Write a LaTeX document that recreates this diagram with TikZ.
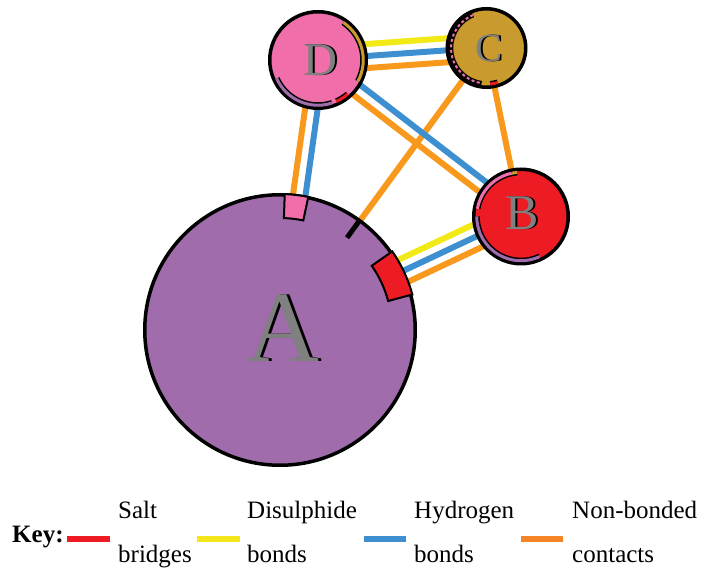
\documentclass[tikz,border=0pt]{standalone}
\usepackage{fontspec}
\setmainfont{Liberation Serif}
\usetikzlibrary{calc}
\definecolor{purpleA}{RGB}{160,108,172}
\definecolor{pinkD}{RGB}{240,110,170}
\definecolor{goldC}{RGB}{201,154,46}
\definecolor{redB}{RGB}{237,28,36}
\definecolor{bondorange}{RGB}{248,153,29}
\definecolor{bondblue}{RGB}{62,143,207}
\definecolor{bondyellow}{RGB}{242,234,22}
\definecolor{legorange}{RGB}{245,132,38}
\definecolor{legblue}{RGB}{63,142,207}
\definecolor{legyellow}{RGB}{244,230,27}
\definecolor{legred}{RGB}{237,28,36}
\definecolor{letgray}{RGB}{128,128,128}
\pgfdeclarelayer{bg}
\pgfsetlayers{bg,main}
\newcommand{\rimarc}[5]{%
  \pgfmathsetmacro\rimb{#2-5.5}%
  \pgfmathsetmacro\rimc{#2-4.75}%
  \draw[black, line width=4.5pt] ([shift={(#3:\rimb pt)}]#1.center) arc[start angle=#3, end angle=#4, radius=\rimb pt];
  \draw[#5, line width=3pt] ([shift={(#3:\rimc pt)}]#1.center) arc[start angle=#3, end angle=#4, radius=\rimc pt];
}
% gray letter with a black shadow, in one box
\newcommand{\shadowletter}[2]{\rlap{\hspace*{#2}\raisebox{-0.3#2}{\textcolor{black}{#1}}}\textcolor{letgray}{#1}}
\begin{document}
\begin{tikzpicture}[x=1pt,y=1pt,
  mol/.style={circle, draw=black, line width=3.5pt, inner sep=0pt},
  bond/.style={line width=6pt},
  letter/.style={inner sep=0pt},
  keytext/.style={anchor=base west, inner sep=0pt, font=\fontsize{25}{30}\selectfont},
  swatch/.style={line width=6.5pt},
  patch/.style={draw=black, line width=2pt, line join=miter}
]
\useasboundingbox (0,0) rectangle (718,570);

% molecules
\node[mol, fill=purpleA, minimum size=270.5pt] (A) at (280,240) {};
\node[mol, fill=pinkD, minimum size=96.5pt] (D) at (318,510) {};
\node[mol, fill=goldC, minimum size=78.5pt] (C) at (486.5,522) {};
\node[mol, fill=redB, minimum size=94.5pt] (B) at (521,353.5) {};

% bonds (behind)
\begin{pgfonlayer}{bg}
\draw[bond, bondorange] (C.center) -- (A.center);
\draw[bond, bondorange] (C.center) -- (B.center);
\draw[bond, bondblue] ($(D.center)!6.5pt!90:(A.center)$) -- ($(A.center)!6.5pt!-90:(D.center)$);
\draw[bond, bondorange] ($(D.center)!6pt!-90:(A.center)$) -- ($(A.center)!6pt!90:(D.center)$);
\draw[bond, bondyellow] ($(D.center)!12.5pt!90:(C.center)$) -- ($(C.center)!12.5pt!-90:(D.center)$);
\draw[bond, bondblue] ($(D.center)!0.5pt!90:(C.center)$) -- ($(C.center)!0.5pt!-90:(D.center)$);
\draw[bond, bondorange] ($(D.center)!11.5pt!-90:(C.center)$) -- ($(C.center)!11.5pt!90:(D.center)$);
\draw[bond, bondyellow] ($(A.center)!13pt!90:(B.center)$) -- ($(B.center)!13pt!-90:(A.center)$);
\draw[bond, bondblue] ($(A.center)!1pt!90:(B.center)$) -- ($(B.center)!1pt!-90:(A.center)$);
\draw[bond, bondorange] ($(A.center)!11pt!-90:(B.center)$) -- ($(B.center)!11pt!90:(A.center)$);
\draw[bond, bondorange] ($(D.center)!6pt!-90:(B.center)$) -- ($(B.center)!6pt!90:(D.center)$);
\draw[bond, bondblue] ($(D.center)!6pt!90:(B.center)$) -- ($(B.center)!6pt!-90:(D.center)$);
\end{pgfonlayer}

% interface patches on A
\draw[patch, fill=pinkD] ([shift={(78:112pt)}]A.center) arc[start angle=78, end angle=88, radius=112pt]
  -- ([shift={(88:136pt)}]A.center) arc[start angle=88, end angle=78, radius=136pt] -- cycle;
\draw[patch, fill=redB] ([shift={(15:112pt)}]A.center) arc[start angle=15, end angle=35, radius=112pt]
  -- ([shift={(35:137pt)}]A.center) arc[start angle=35, end angle=15, radius=137pt] -- cycle;
\draw[black, line width=5pt] ([shift={(54:114pt)}]A.center) -- ([shift={(54:136pt)}]A.center);

% rim arcs
\rimarc{D}{50}{-28}{56}{goldC}
\rimarc{D}{50}{204}{288}{purpleA}
\rimarc{D}{50}{-66}{-49}{redB}
\rimarc{B}{49}{102}{170}{pinkD}
\rimarc{B}{49}{180}{295}{purpleA}
\rimarc{B}{49}{95}{102}{goldC}
\rimarc{C}{41}{-84}{-72}{redB}
\draw[black, line width=4.5pt] ([shift={(112:35.5pt)}]C.center) arc[start angle=112, end angle=262, radius=35.5pt];
\draw[pinkD, line width=2pt, dash pattern=on 3pt off 2.5pt] ([shift={(112:35.5pt)}]C.center) arc[start angle=112, end angle=262, radius=35.5pt];

% letters
\node[letter, font=\fontsize{101}{101}\selectfont] (Alab) at (282.5,241.5) {\shadowletter{A}{3pt}};
\node[letter, font=\fontsize{47}{47}\selectfont] (Dlab) at (320,510) {\shadowletter{D}{2pt}};
\node[letter, font=\fontsize{40}{40}\selectfont] (Clab) at (488.5,521.5) {\shadowletter{C}{2pt}};
\node[letter, font=\fontsize{50}{50}\selectfont] (Blab) at (522,356.5) {\shadowletter{B}{2pt}};

% key
\node[keytext, font=\fontsize{25}{30}\selectfont\bfseries] (key) at (12,27) {Key:};
\draw[swatch, legred] (67,31) -- (110,31);
\node[keytext] (salt) at (118,51) {Salt};
\node[keytext] (bridges) at (118,7) {bridges};
\draw[swatch, legyellow] (197,31) -- (240,31);
\node[keytext] (disul) at (247,51) {Disulphide};
\node[keytext] (bondsa) at (247,7) {bonds};
\draw[swatch, legblue] (364,31) -- (406,31);
\node[keytext] (hydro) at (414,51) {Hydrogen};
\node[keytext] (bondsb) at (414,7) {bonds};
\draw[swatch, legorange] (521,31) -- (563,31);
\node[keytext] (nonb) at (572,51) {Non-bonded};
\node[keytext] (contacts) at (572,7) {contacts};
\end{tikzpicture}
\end{document}
